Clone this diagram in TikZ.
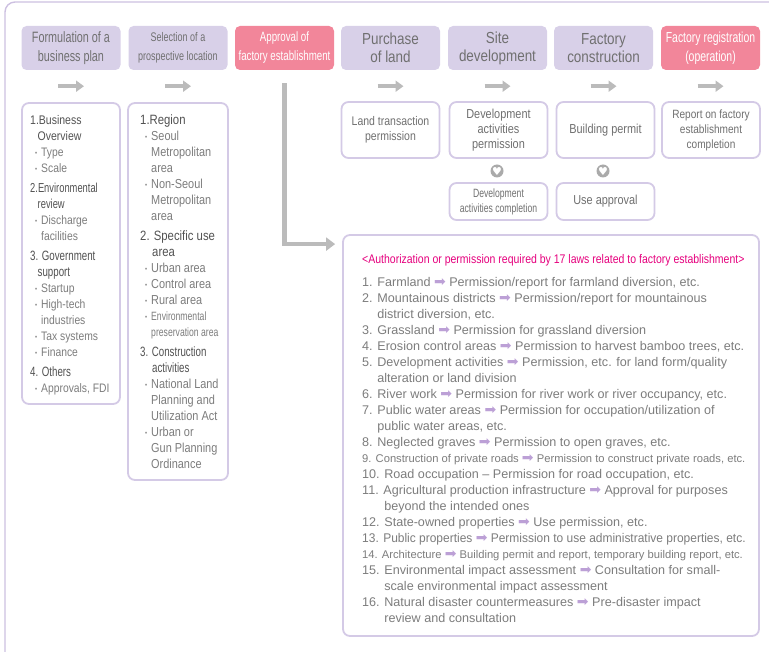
\documentclass[tikz,border=0pt]{standalone}
\usepackage{fontspec}
\setmainfont{Liberation Sans}
\newfontfamily\condfont[FakeStretch=0.72]{Liberation Sans}
\newfontfamily\semifont[FakeStretch=0.84]{Liberation Sans}
\newfontfamily\narrowfont[FakeStretch=0.95]{Liberation Sans}
\newfontfamily\symfont{DejaVu Sans}
\usetikzlibrary{arrows.meta}
\definecolor{headfill}{RGB}{216,208,232}
\definecolor{headpink}{RGB}{242,134,154}
\definecolor{boxline}{RGB}{212,202,230}
\definecolor{framline}{RGB}{205,192,225}
\definecolor{stepgray}{RGB}{187,187,187}
\definecolor{txtgray}{RGB}{112,112,112}
\definecolor{hdgray}{RGB}{82,82,82}
\definecolor{itmgray}{RGB}{125,125,125}
\definecolor{lawpink}{RGB}{230,0,126}
\definecolor{lawarrow}{RGB}{188,160,214}
\definecolor{dotgray}{RGB}{170,170,170}
\newcommand{\lawar}{{\symfont\color{lawarrow}\fontsize{14}{16}\selectfont ➡}}
\newcommand{\contA}{\phantom{1. }}
\newcommand{\contB}{\phantom{10. }}
\newcommand{\hdtxt}[1]{{\color{hdgray}#1}}
\newcommand{\bulitem}[1]{\hspace*{5pt}\makebox[6pt][l]{\raisebox{1pt}{\fontsize{7}{7}\selectfont •}}#1}
\newcommand{\contitem}[1]{\hspace*{11pt}#1}
\tikzset{
    headbox/.style = {rectangle, rounded corners=5pt, fill=headfill, text=txtgray, align=center, minimum width=99pt, minimum height=44pt, inner sep=1pt},
    headboxr/.style = {headbox, fill=headpink, text=white},
    detbox/.style = {rectangle, rounded corners=7pt, draw=boxline, line width=1.8pt, fill=white, text=txtgray, align=center, minimum width=98pt, inner sep=1pt},
    txtnode/.style = {align=left, inner sep=0pt, anchor=north west},
    stepar/.style = {line width=4pt, stepgray, -{Triangle[length=8pt,width=11pt]}},
    bigar/.style = {line width=4.5pt, stepgray, -{Triangle[length=9pt,width=13pt]}}, % to the laws box
    hrtnode/.style = {circle, fill=dotgray, minimum size=13pt, inner sep=0pt, text=white, font=\symfont\fontsize{11}{11}\selectfont},
    outerframe/.style = {rounded corners=10pt, draw=framline, line width=1.4pt}
}
\begin{document}
\begin{tikzpicture}[x=1pt, y=-1pt, font=\fontsize{12}{16}\selectfont]
  \useasboundingbox (0,0) rectangle (769,652);
  \clip (0,0) rectangle (769,652);
  \draw[outerframe] (5,2) rectangle (800,690);

  % steps
  \node[headbox, font=\condfont\fontsize{15}{19}\selectfont] at (71,48) (h1) {Formulation of a\\business plan};
  \node[headbox, font=\condfont\fontsize{12.5}{19}\selectfont] at (178,48) (h2) {Selection of a\\prospective location};
  \node[headboxr, font=\condfont\fontsize{13.5}{19}\selectfont] at (284.5,48) (h3) {Approval of\\factory establishment};
  \node[headbox, font=\semifont\fontsize{16}{18}\selectfont] at (390.5,48) (h4) {Purchase\\of land};
  \node[headbox, font=\semifont\fontsize{16}{18}\selectfont] at (497.5,48) (h5) {Site\\development};
  \node[headbox, font=\semifont\fontsize{16}{18}\selectfont] at (603.5,48) (h6) {Factory\\construction};
  \node[headboxr, font=\condfont\fontsize{14.5}{19}\selectfont] at (710.5,48) (h7) {Factory registration\\(operation)};

  \node[detbox, minimum height=301pt] at (71,253.5) (d1) {};
  \node[detbox, minimum width=100pt, minimum height=377pt] at (178,291.5) (d2) {};
  \node[detbox, minimum height=56pt, font=\semifont\fontsize{12.5}{15}\selectfont] at (390.5,130) (dl) {Land transaction\\permission};
  \node[detbox, minimum height=56pt, font=\semifont\fontsize{13}{15}\selectfont] at (498.5,130) (dd) {Development\\activities\\permission};
  \node[detbox, minimum height=56pt, font=\semifont\fontsize{13}{15}\selectfont] at (605.5,130) (db) {Building permit};
  \node[detbox, minimum height=56pt, font=\semifont\fontsize{12}{15}\selectfont] at (711,130) (dr) {Report on factory\\establishment\\completion};
  \node[detbox, minimum height=37pt, font=\condfont\fontsize{12}{15}\selectfont] at (498.5,201.5) (dc) {Development\\activities completion};
  \node[detbox, minimum height=37pt, font=\semifont\fontsize{13}{15}\selectfont] at (605.5,201.5) (du) {Use approval};
  \node[detbox, minimum width=416pt, minimum height=401pt] at (551,435.5) (laws) {};

  \node[hrtnode] at (497,171) (hr1) {♥};
  \node[hrtnode] at (603,171) (hr2) {♥};

  \foreach \s in {h1,h2,h4,h5,h6,h7}
    \draw[stepar] ([xshift=-13pt,yshift=-16pt]\s.south) -- ([xshift=13pt,yshift=-16pt]\s.south);
  \draw[bigar] ([yshift=-13pt]h3.south) |- ([xshift=-7pt,yshift=-10pt]laws.north west);

  % business plan items
  \node[txtnode, text=itmgray, font=\semifont\fontsize{12.3}{16}\selectfont] at (30,115) (plan) {%
    \hdtxt{\fontsize{12.5}{16}\selectfont 1.Business}\\
    \hdtxt{\fontsize{12.5}{16}\selectfont\hspace*{7.5pt}Overview}\\
    \bulitem{Type}\\
    \bulitem{Scale}\\[4pt]
    \hdtxt{\condfont\fontsize{13}{16}\selectfont 2.Environmental}\\
    \hdtxt{\condfont\fontsize{13}{16}\selectfont\hspace*{7.5pt}review}\\
    \bulitem{Discharge}\\
    \contitem{facilities}\\[4pt]
    \hdtxt{\condfont\fontsize{13.5}{16}\selectfont 3. Government}\\
    \hdtxt{\condfont\fontsize{13.5}{16}\selectfont\hspace*{7.5pt}support}\\
    \bulitem{Startup}\\
    \bulitem{High-tech}\\
    \contitem{industries}\\
    \bulitem{Tax systems}\\
    \bulitem{Finance}\\[4pt]
    \hdtxt{\condfont\fontsize{13.5}{16}\selectfont 4. Others}\\
    \bulitem{Approvals, FDI}};

  % location items
  \node[txtnode, text=itmgray, font=\semifont\fontsize{13}{16}\selectfont] at (140,115) (loc) {%
    \hdtxt{\fontsize{13.5}{16}\selectfont 1.Region}\\
    \bulitem{Seoul}\\
    \contitem{Metropolitan}\\
    \contitem{area}\\
    \bulitem{Non-Seoul}\\
    \contitem{Metropolitan}\\
    \contitem{area}\\[4pt]
    \hdtxt{\fontsize{13.5}{16}\selectfont 2. Specific use}\\
    \hdtxt{\fontsize{13.5}{16}\selectfont\hspace*{12pt}area}\\
    \bulitem{Urban area}\\
    \bulitem{Control area}\\
    \bulitem{Rural area}\\
    \bulitem{\condfont\fontsize{12}{16}\selectfont Environmental}\\
    \contitem{\condfont\fontsize{12}{16}\selectfont preservation area}\\[4pt]
    \hdtxt{\condfont\fontsize{13.5}{16}\selectfont 3. Construction}\\
    \hdtxt{\condfont\fontsize{13.5}{16}\selectfont\hspace*{12pt}activities}\\
    \bulitem{National Land}\\
    \contitem{Planning and}\\
    \contitem{Utilization Act}\\
    \bulitem{Urban or}\\
    \contitem{Gun Planning}\\
    \contitem{Ordinance}};

  % laws
  \node[txtnode, text=lawpink, font=\semifont\fontsize{12.5}{16}\selectfont] at (362,254) (lawtitle) {<Authorization or permission required by 17 laws related to factory establishment>};
  \node[txtnode, text=itmgray, font=\fontsize{12.6}{16}\selectfont] at (362,277) (lawlist) {%
    1. Farmland \lawar{} Permission/report for farmland diversion, etc.\\
    2. Mountainous districts \lawar{} Permission/report for mountainous\\
    \contA district diversion, etc.\\
    3. Grassland \lawar{} Permission for grassland diversion\\
    4. Erosion control areas \lawar{} Permission to harvest bamboo trees, etc.\\
    5. Development activities \lawar{} Permission, etc. for land form/quality\\
    \contA alteration or land division\\
    6. River work \lawar{} Permission for river work or river occupancy, etc.\\
    7. Public water areas \lawar{} Permission for occupation/utilization of\\
    \contA public water areas, etc.\\
    8. Neglected graves \lawar{} Permission to open graves, etc.\\
    {\fontsize{11.2}{16}\selectfont 9. Construction of private roads \lawar{} Permission to construct private roads, etc.}\\
    10. Road occupation – Permission for road occupation, etc.\\
    11. Agricultural production infrastructure \lawar{} Approval for purposes\\
    \contB beyond the intended ones\\
    12. State-owned properties \lawar{} Use permission, etc.\\
    {\narrowfont 13. Public properties \lawar{} Permission to use administrative properties, etc.}\\
    {\fontsize{11.2}{16}\selectfont 14. Architecture \lawar{} Building permit and report, temporary building report, etc.}\\
    15. Environmental impact assessment \lawar{} Consultation for small-\\
    \contB scale environmental impact assessment\\
    16. Natural disaster countermeasures \lawar{} Pre-disaster impact\\
    \contB review and consultation};
\end{tikzpicture}
\end{document}
